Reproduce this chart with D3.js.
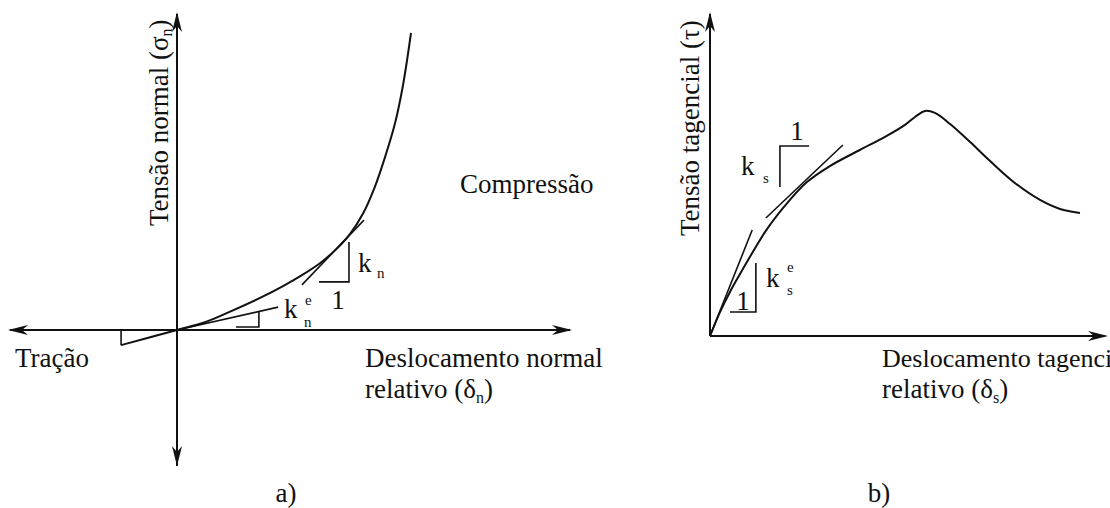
<!DOCTYPE html>
<html>
<head>
<meta charset="utf-8">
<script src="https://cdn.jsdelivr.net/npm/d3@7"></script>
<style>
  body { margin: 0; background: #fff; }
  text { font-family: "Liberation Serif", "Times New Roman", serif; fill: #111; }
</style>
</head>
<body>
<script>
// panel a) normal stress vs normal displacement (units read off the picture)
var deltaN = [-23.9, 0, 12.0, 23.9, 35.5, 45.3, 53.4, 61.1, 67.5, 73.9, 79.5, 84.6, 88.9, 93.2, 96.6, 100];
var sigmaN = [-5.1, 0, 2.6, 6.6, 10.8, 14.8, 18.5, 22.5, 26.8, 32.3, 39.2, 48.3, 58.2, 69.7, 82.5, 100];
var knLine = [[53.4, 15.2], [79.9, 37.0]];
var knTri = [[60.7, 16.2], [73.5, 16.2], [73.5, 29.6]];
var kneLine = [[0, 0], [43.2, 7.7]];
var kneTri = [[25.2, 1.0], [35.0, 1.0], [35.0, 6.1]];
var tracTri = [[-23.9, -5.1], [-23.9, 0]];

// panel b) shear stress vs shear displacement
var deltaS = [0, 2.7, 5.4, 8.1, 11.4, 15.4, 21.6, 26.2, 32.4, 40.5, 47.3, 52.7, 55.4, 58.1, 60.8, 64.9, 70.3, 75.7, 82.4, 89.2, 94.6, 100];
var tau = [0, 10.6, 19.5, 27.4, 36.7, 47.3, 60.2, 68.1, 75.2, 82.3, 88.1, 93.4, 96.9, 99.6, 98.7, 93.8, 85.8, 77.4, 67.7, 60.2, 56.2, 54.4];
var ksLine = [[15.1, 52.2], [35.9, 84.5]];
var ksTri = [[18.9, 65.9], [18.9, 84.1], [26.8, 84.1]];
var kseLine = [[0, 0], [11.4, 46.9]];
var kseTri = [[5.4, 10.6], [12.4, 10.6], [12.4, 32.3]];

var W = 1110, H = 508;
var svg = d3.select('body').append('svg')
  .attr('width', W)
  .attr('height', H);

// scales
var xA = d3.scaleLinear().domain([0, 100]).range([177, 411]);
var yA = d3.scaleLinear().domain([0, 100]).range([330, 33]);
var xB = d3.scaleLinear().domain([0, 100]).range([710, 1080]);
var yB = d3.scaleLinear().domain([0, 100]).range([336, 110]);

// arrow head path pointing along (dx,dy) with tip at (x,y)
function arrow(x, y, dx, dy) {
  var len = 20, half = 5, back = 14;
  var px = -dy, py = dx;
  var p1 = [x - dx * len + px * half, y - dy * len + py * half];
  var p2 = [x - dx * back, y - dy * back];
  var p3 = [x - dx * len - px * half, y - dy * len - py * half];
  svg.append('path')
    .attr('d', 'M' + x + ',' + y + 'L' + p1 + 'L' + p2 + 'L' + p3 + 'Z')
    .attr('fill', '#111');
}

function axisLine(x1, y1, x2, y2) {
  svg.append('line')
    .attr('x1', x1).attr('y1', y1).attr('x2', x2).attr('y2', y2)
    .attr('stroke', '#111').attr('stroke-width', 2);
}

function poly(pts, xs, ys, w) {
  svg.append('path')
    .attr('d', d3.line().x(d => xs(d[0])).y(d => ys(d[1]))(pts))
    .attr('fill', 'none')
    .attr('stroke', '#111')
    .attr('stroke-width', w || 1.6);
}

function curve(xv, yv, xs, ys) {
  svg.append('path')
    .datum(xv.map((v, i) => [v, yv[i]]))
    .attr('d', d3.line().x(d => xs(d[0])).y(d => ys(d[1])).curve(d3.curveCatmullRom.alpha(0.5)))
    .attr('fill', 'none')
    .attr('stroke', '#111')
    .attr('stroke-width', 2);
}

function label(x, y, str, size, anchor) {
  return svg.append('text')
    .attr('x', x).attr('y', y)
    .attr('font-size', size)
    .attr('text-anchor', anchor || 'start')
    .text(str);
}

// ---- panel a ----
axisLine(xA(0), 466, xA(0), 14);
arrow(xA(0), 12, 0, -1);
arrow(xA(0), 466, 0, 1);
axisLine(10, yA(0), 570, yA(0));
arrow(572, yA(0), 1, 0);
arrow(8, yA(0), -1, 0);

curve(deltaN, sigmaN, xA, yA);
poly(knLine, xA, yA);
poly(knTri, xA, yA);
poly(kneLine, xA, yA);
poly(kneTri, xA, yA);
poly(tracTri, xA, yA);

label(358, 272, 'k', 27);
label(377, 278, 'n', 15).attr('fill', '#444');
label(338, 309, '1', 27, 'middle');
label(284, 318, 'k', 27);
label(305, 305, 'e', 15).attr('fill', '#444');
label(304, 327, 'n', 15).attr('fill', '#444');

label(15, 367, 'Tração', 27);
label(460, 193, 'Compressão', 27);
label(365, 367, 'Deslocamento normal', 27);
var ta = label(365, 398, 'relativo (δ', 27);
ta.append('tspan').attr('font-size', 16).attr('dy', 5).text('n');
ta.append('tspan').attr('dy', -5).text(')');

var ya = svg.append('text')
  .attr('transform', 'translate(168,226) rotate(-90)')
  .attr('font-size', 27)
  .text('Tensão normal (σ');
ya.append('tspan').attr('font-size', 16).attr('dy', 4).text('n');
ya.append('tspan').attr('dy', -4).text(')');

label(286, 502, 'a)', 27, 'middle');

// ---- panel b ----
axisLine(xB(0), yB(0), xB(0), 14);
arrow(xB(0), 12, 0, -1);
axisLine(xB(0), yB(0), 1105, yB(0));
arrow(1108, yB(0), 1, 0);

curve(deltaS, tau, xB, yB);
poly(ksLine, xB, yB);
poly(ksTri, xB, yB);
poly(kseLine, xB, yB);
poly(kseTri, xB, yB);

label(797, 140, '1', 27, 'middle');
label(741, 175, 'k', 27);
label(763, 183, 's', 15).attr('fill', '#444');
label(743, 310, '1', 27, 'middle');
label(766, 287, 'k', 27);
label(787, 272, 'e', 15).attr('fill', '#444');
label(787, 295, 's', 15).attr('fill', '#444');

// the reference crops this label at the right edge
label(882, 367, 'Deslocamento tagencial', 26);
var tb = label(882, 398, 'relativo (δ', 27);
tb.append('tspan').attr('font-size', 16).attr('dy', 5).text('s');
tb.append('tspan').attr('dy', -5).text(')');

svg.append('text')
  .attr('transform', 'translate(699,236) rotate(-90)')
  .attr('font-size', 27)
  .text('Tensão tagencial (τ)');

label(879, 502, 'b)', 27, 'middle');
</script>
</body>
</html>
